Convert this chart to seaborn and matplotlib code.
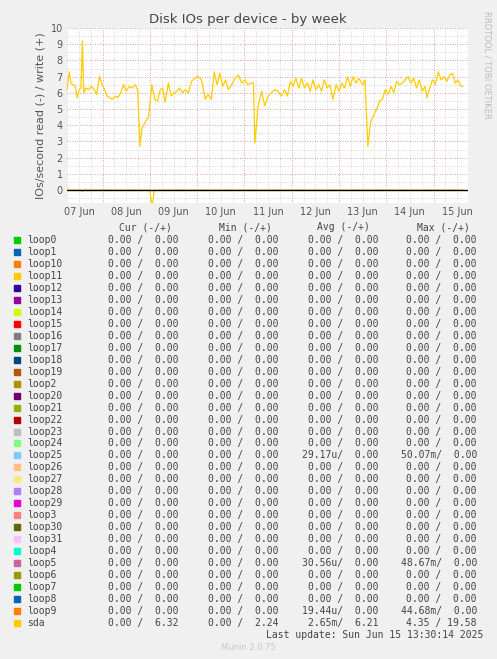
import matplotlib
matplotlib.use("Agg")
import matplotlib.pyplot as plt
import seaborn as sns
import numpy as np
import pandas as pd

# sda write (+) series: day offset from 07 Jun 00:00, value
sda_t = [0.25,0.29,0.33,0.37,0.42,0.46,0.50,0.54,0.57,0.60,
         0.64,0.70,0.76,0.82,0.87,0.93,0.99,1.04,1.09,1.15,
         1.21,1.27,1.32,1.38,1.44,1.50,1.56,1.62,1.68,1.74,
         1.79,1.83,1.90,1.97,2.04,2.10,2.16,2.22,2.27,2.32,
         2.39,2.45,2.51,2.57,2.63,2.69,2.75,2.81,2.88,2.95,
         3.02,3.09,3.17,3.23,3.30,3.36,3.42,3.48,3.54,3.60,
         3.66,3.73,3.80,3.87,3.94,4.01,4.07,4.13,4.19,4.22,
         4.29,4.36,4.43,4.50,4.57,4.64,4.71,4.78,4.85,4.91,
         4.97,5.03,5.09,5.15,5.21,5.27,5.33,5.39,5.45,5.51,
         5.57,5.63,5.69,5.75,5.81,5.87,5.94,6.00,6.06,6.12,
         6.18,6.24,6.30,6.36,6.42,6.50,6.55,6.61,6.67,6.73,
         6.80,6.86,6.92,6.98,7.04,7.10,7.16,7.22,7.28,7.34,
         7.40,7.46,7.52,7.58,7.64,7.70,7.76,7.82,7.86,7.92,
         7.98,8.04,8.10,8.16,8.22,8.28,8.34,8.40,8.46,8.52,
         8.58,8.62]
sda_v = [6.2,7.3,6.6,6.5,6.4,5.7,6.2,6.3,9.2,6.0,
         6.3,6.2,6.4,6.2,5.9,7.0,6.5,6.2,5.8,5.7,
         5.6,5.8,5.7,6.0,6.5,6.1,6.4,6.3,6.5,6.2,
         2.7,3.8,4.2,4.5,6.5,5.6,5.5,6.2,6.3,5.4,
         6.6,5.8,6.0,6.1,6.3,6.0,6.2,6.0,6.7,6.9,
         7.0,6.8,5.6,5.9,5.6,7.3,6.5,7.2,6.4,6.8,
         6.2,6.5,6.9,7.1,6.6,6.8,6.5,6.6,6.6,2.9,
         5.2,6.1,5.2,5.8,6.0,6.2,6.1,5.8,6.2,5.8,
         6.7,6.4,6.9,6.3,6.9,6.3,6.6,6.1,6.8,6.2,
         6.5,6.1,6.8,6.3,6.5,5.6,6.5,6.1,6.6,6.3,
         7.0,6.4,7.0,6.6,6.9,6.5,6.8,2.7,4.2,4.6,
         5.0,5.5,5.6,6.2,5.9,6.4,6.0,6.7,6.5,6.6,
         6.8,7.0,6.6,6.9,6.3,6.8,6.1,6.4,5.7,6.3,
         6.8,6.5,7.3,6.8,7.0,6.7,7.1,7.2,6.6,6.8,
         6.4,6.4]
# sda read (-) series
read_t = [0.25,0.55,0.57,0.59,2.00,2.03,2.06,2.09,8.62]
read_v = [0.0,0.0,-0.1,0.0,0.0,-0.8,-0.8,0.0,0.0]

day_labels = ["07 Jun","08 Jun","09 Jun","10 Jun","11 Jun","12 Jun","13 Jun","14 Jun","15 Jun"]

names = ["loop0","loop1","loop10","loop11","loop12","loop13","loop14","loop15","loop16","loop17","loop18","loop19","loop2","loop20","loop21","loop22","loop23","loop24","loop25","loop26","loop27","loop28","loop29","loop3","loop30","loop31","loop4","loop5","loop6","loop7","loop8","loop9","sda"]
colors = ["#00CC00","#0066B3","#FF8000","#FFCC00","#330099","#990099","#CCFF00","#FF0000","#808080","#008F00","#00487D","#B35A00","#B38F00","#6B006B","#8FB300","#B30000","#BEBEBE","#80FF80","#80C9FF","#FFC080","#FFE680","#AA80FF","#EE00CC","#FF8080","#666600","#FFBFFF","#00FFCC","#CC6699","#999900","#00CC00","#0066B3","#FF8000","#FFCC00"]
cur = ["0.00 /  0.00"]*32 + ["0.00 /  6.32"]
mn = ["0.00 /  0.00"]*32 + ["0.00 /  2.24"]
avg = ["0.00 /  0.00"]*33
mx = ["0.00 /  0.00"]*33
avg[names.index("loop25")] = "29.17u/  0.00"; mx[names.index("loop25")] = "50.07m/  0.00"
avg[names.index("loop5")] = "30.56u/  0.00"; mx[names.index("loop5")] = "48.67m/  0.00"
avg[names.index("loop9")] = "19.44u/  0.00"; mx[names.index("loop9")] = "44.68m/  0.00"
avg[-1] = "2.65m/  6.21"; mx[-1] = "4.35 / 19.58"

sns.set_theme(style="white")
plt.rcParams['font.family'] = ['DejaVu Sans']
W, H = 497, 659
fig = plt.figure(figsize=(W/100, H/100), dpi=100, facecolor="#F0F0F0")
ax = fig.add_axes([67/W, 1-203/H, (468-67)/W, (203-28)/H])
ax.set_facecolor("white")

df = pd.DataFrame({"t": sda_t, "v": sda_v})
dr = pd.DataFrame({"t": read_t, "v": read_v})
sns.lineplot(data=df, x="t", y="v", color="#FFCC00", lw=0.9, ax=ax)
sns.lineplot(data=dr, x="t", y="v", color="#FFCC00", lw=0.9, ax=ax)

ax.set_xlim(0.245, 8.73)
ax.set_ylim(-0.8, 10)
ax.set_xticks(np.arange(0.5, 9, 1))
ax.set_xticklabels(day_labels)
ax.set_yticks(range(0, 11))
for t in np.arange(0.25, 8.8, 0.25):
    if abs(t - round(t)) > 1e-6:
        ax.axvline(t, color="#BBBBBB", lw=0.5, ls=(0, (1, 2)), zorder=0)
for t in range(1, 9):
    ax.axvline(t, color="#E08080", lw=0.6, ls=(0, (1, 2)), zorder=0)
for y in np.arange(-0.5, 10, 0.5):
    if abs(y - round(y)) > 1e-6:
        ax.axhline(y, color="#BBBBBB", lw=0.5, ls=(0, (1, 2)), zorder=0)
for y in range(1, 11):
    ax.axhline(y, color="#E08080", lw=0.6, ls=(0, (1, 2)), zorder=0)
ax.axhline(0, color="black", lw=1.0, zorder=3)
for s in ax.spines.values():
    s.set_visible(False)
ax.tick_params(labelsize=7, colors="#555555", length=0, pad=3)
ax.set_xlabel(""); ax.set_ylabel("IOs/second read (-) / write (+)", fontsize=8, color="#555555")

fig.text(248/W, 1-19/H, "Disk IOs per device - by week", ha="center", va="center", fontsize=9.5, color="#444444")
fig.text(487/W, 1-65/H, "RRDTOOL / TOBI OETIKER", rotation=270, ha="center", va="center", fontsize=6, color="#BBBBBB")

mono = dict(family="DejaVu Sans Mono", fontsize=7, color="#444444")
hy = 1 - 227/H
for x, h in [(145, "Cur (-/+)"), (245, "Min (-/+)"), (343, "Avg (-/+)"), (443, "Max (-/+)")]:
    fig.text(x/W, hy, h, ha="center", va="center", **mono)
for i, n in enumerate(names):
    y = 1 - (240 + i*11.97)/H
    fig.patches.append(plt.Rectangle((14/W, y - 3/H), 6/W, 6/H, color=colors[i], transform=fig.transFigure))
    fig.text(27/W, y, n, ha="left", va="center", **mono)
    fig.text(179/W, y, cur[i], ha="right", va="center", **mono)
    fig.text(279/W, y, mn[i], ha="right", va="center", **mono)
    fig.text(378/W, y, avg[i], ha="right", va="center", **mono)
    fig.text(477/W, y, mx[i], ha="right", va="center", **mono)
fig.text(483/W, 1-635/H, "Last update: Sun Jun 15 13:30:14 2025", ha="right", va="center", **mono)
fig.text(248/W, 1-647/H, "Munin 2.0.75", ha="center", va="center", fontsize=6, color="#C8C8C8")

fig.savefig("out.png", dpi=100, facecolor=fig.get_facecolor())
